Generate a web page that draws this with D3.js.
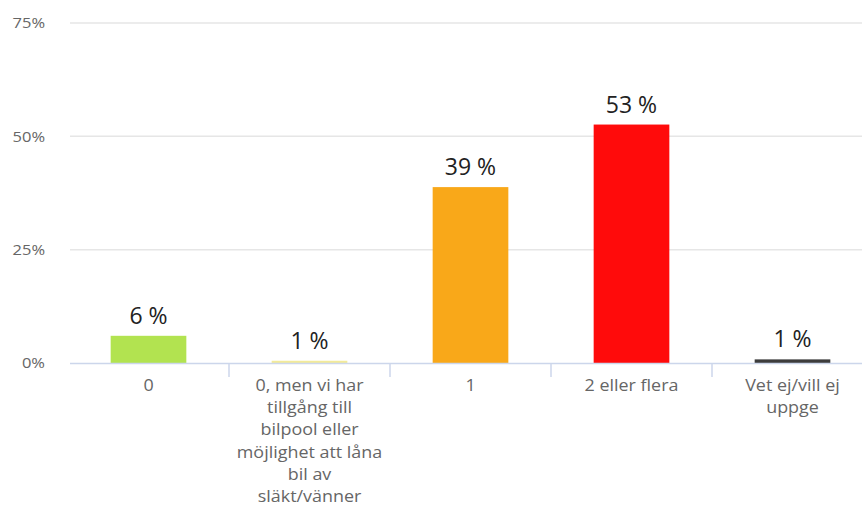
<!DOCTYPE html>
<html><head><meta charset="utf-8">
<script src="https://cdn.jsdelivr.net/npm/d3@7"></script>
<style>body{margin:0;background:#fff;}svg{display:block;}</style>
</head><body>
<svg id="c" width="862" height="506"></svg>
<script>
const categories = ["0", "0, men vi har tillgång till bilpool eller möjlighet att låna bil av släkt/vänner", "1", "2 eller flera", "Vet ej/vill ej uppge"];
const categoryLines = [["0"], ["0, men vi har", "tillgång till", "bilpool eller", "möjlighet att låna", "bil av", "släkt/vänner"], ["1"], ["2 eller flera"], ["Vet ej/vill ej", "uppge"]];
const values = [6.0, 0.5, 38.8, 52.6, 0.8];
const valueLabels = ["6 %", "1 %", "39 %", "53 %", "1 %"];
const colors = ["#b2e350", "#f2ea9a", "#f9a819", "#ff0b0b", "#3c3c3c"];
const yTicks = [0, 25, 50, 75];

const svg = d3.select("#c");
const x = d3.scaleBand().domain(categories).range([68, 873]).paddingInner(0.53).paddingOuter(0.265);
const y = d3.scaleLinear().domain([0, 75]).range([363, 23]);

// gridlines
svg.append("g").selectAll("line").data(yTicks.filter(d => d > 0)).join("line")
  .attr("x1", 70).attr("x2", 862).attr("y1", d => y(d)).attr("y2", d => y(d))
  .attr("stroke", "#e6e6e6").attr("stroke-width", 1.5);

// y labels
svg.append("g").selectAll("text").data(yTicks).join("text")
  .attr("transform", d => `translate(45,${y(d)}) scale(1.1,1)`)
  .attr("dy", "0.35em").attr("text-anchor", "end")
  .attr("font-family", "Open Sans").attr("font-size", 15).attr("fill", "#666")
  .text(d => d + "%");

// bars
svg.append("g").selectAll("rect").data(values).join("rect")
  .attr("x", (d, i) => x(categories[i])).attr("width", x.bandwidth())
  .attr("y", d => y(d)).attr("height", d => y(0) - y(d))
  .attr("fill", (d, i) => colors[i]);

// x axis line and ticks
svg.append("line").attr("x1", 70).attr("x2", 862).attr("y1", y(0) + 0.5).attr("y2", y(0) + 0.5)
  .attr("stroke", "#ccd6eb").attr("stroke-width", 1.5);
const step = x.step();
svg.append("g").selectAll("line").data(categories.slice(1)).join("line")
  .attr("x1", d => x(d) - x.paddingInner() * step / 2).attr("x2", d => x(d) - x.paddingInner() * step / 2)
  .attr("y1", y(0)).attr("y2", y(0) + 14)
  .attr("stroke", "#ccd6eb").attr("stroke-width", 1.5);

// category labels
const cl = svg.append("g").selectAll("text").data(categories).join("text")
  .attr("transform", d => `translate(${x(d) + x.bandwidth() / 2},391) scale(1.12,1)`)
  .attr("text-anchor", "middle").attr("font-family", "Open Sans").attr("font-size", 16).attr("fill", "#666");
cl.each(function(d, i) {
  d3.select(this).selectAll("tspan").data(categoryLines[i]).join("tspan")
    .attr("x", 0).attr("dy", (t, j) => j === 0 ? 0 : 22.2).text(t => t);
});

// value labels
svg.append("g").selectAll("text").data(values).join("text")
  .attr("x", (d, i) => x(categories[i]) + x.bandwidth() / 2).attr("y", d => y(d) - 12)
  .attr("text-anchor", "middle").attr("font-family", "Open Sans").attr("font-size", 23).attr("fill", "#222")
  .text((d, i) => valueLabels[i]);
</script>
</body></html>
